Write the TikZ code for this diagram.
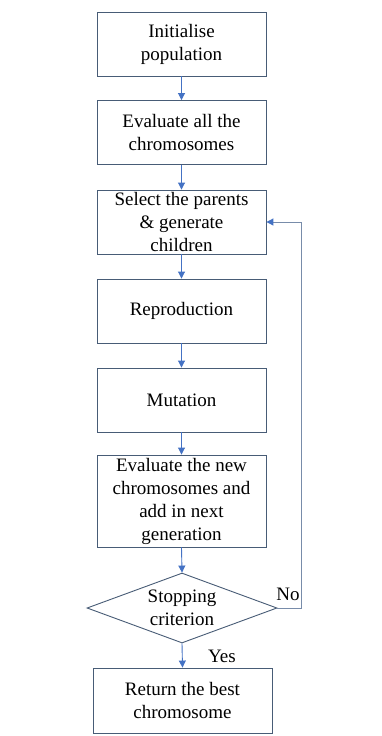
\documentclass[tikz,border=0pt]{standalone}
\usepackage{fontspec}
\setmainfont{Liberation Serif}
\usetikzlibrary{shapes.geometric,arrows.meta}
\definecolor{boxc}{RGB}{72,92,118}
\definecolor{arrc}{RGB}{68,114,196}
\definecolor{fbc}{RGB}{120,140,170}
\begin{document}
\begin{tikzpicture}[x=1pt,y=-1pt,
  stepbox/.style={draw=boxc,line width=0.9pt,minimum width=169pt,minimum height=64pt,align=center,inner xsep=2pt,inner ysep=0pt,
    font=\fontsize{19}{23}\selectfont},
  decbox/.style={draw=boxc,line width=0.9pt,diamond,aspect=2.714,minimum width=190pt,minimum height=70pt,inner sep=0pt,align=center,
    font=\fontsize{19}{23}\selectfont},
  arr/.style={draw=arrc,line width=0.9pt,-{Triangle[length=7pt,width=7pt,fill=arrc]}},
  fb/.style={draw=fbc,line width=1pt,-{Triangle[length=7pt,width=7pt,fill=arrc,color=arrc]}},
  lbl/.style={font=\fontsize{19}{22}\selectfont,inner sep=0pt}]
\useasboundingbox[fill=white] (0,0) rectangle (382,736);
\node[stepbox] (n1) at (181.5,44) {Initialise\\population};
\node[stepbox] (n2) at (181.5,132.5) {Evaluate all the\\chromosomes};
\node[stepbox] (n3) at (181.5,222) {Select the parents\\\& generate\\children};
\node[stepbox] (n4) at (181.5,311) {Reproduction};
\node[stepbox] (n5) at (181.5,400) {Mutation};
\node[stepbox,minimum height=92pt] (n6) at (181.5,501) {Evaluate the new\\chromosomes and\\add in next\\generation};
\node[decbox] (d) at (182,608) {Stopping\\criterion};
\node[stepbox,minimum width=179pt,minimum height=65pt] (n7) at (182.5,700.5) {Return the best\\chromosome};
\coordinate (c1) at (301,608);
\coordinate (c2) at (301,222);
\draw[arr] (n1) -- (n2);
\draw[arr] (n2) -- (n3);
\draw[arr] (n3) -- (n4);
\draw[arr] (n4) -- (n5);
\draw[arr] (n5) -- (n6);
\draw[arr] (n6.south) -- (d.north);
\draw[arr] (d.south) -- (n7.north);
\draw[fb] (d.east) -- (c1) -- (c2) -- (n3.east);
\node[lbl] (no) at (288,594) {No};
\node[lbl] (yes) at (222,656) {Yes};
\end{tikzpicture}
\end{document}
